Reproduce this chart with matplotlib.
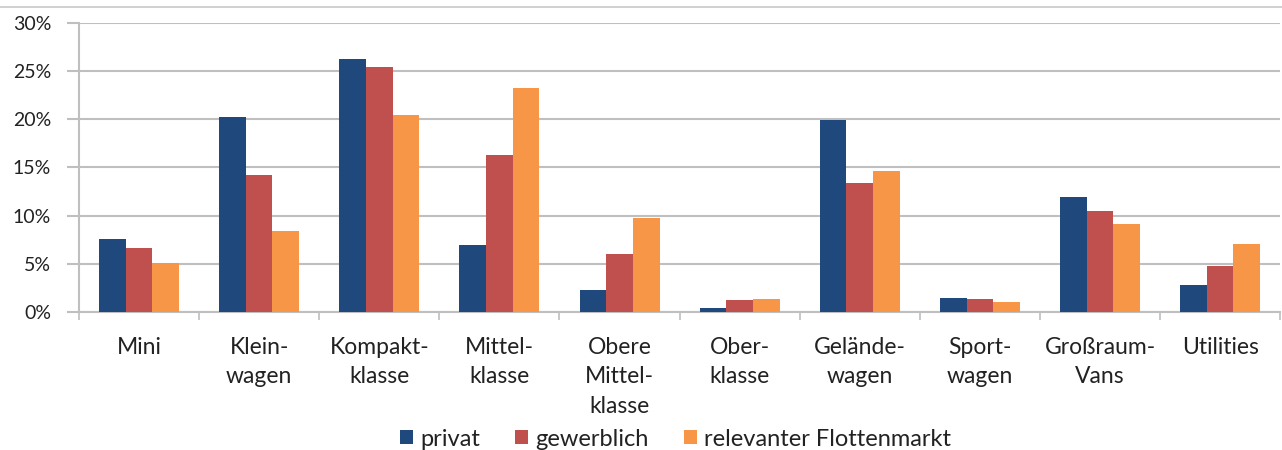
import matplotlib.pyplot as plt
import numpy as np
from matplotlib.lines import Line2D
from matplotlib.ticker import FuncFormatter, FixedLocator

plt.rcParams['font.family'] = ['Lato', 'DejaVu Sans']

categories = ["Mini", "Klein-\nwagen", "Kompakt-\nklasse", "Mittel-\nklasse",
              "Obere\nMittel-\nklasse", "Ober-\nklasse", "Gelände-\nwagen",
              "Sport-\nwagen", "Großraum-\nVans", "Utilities"]
privat = [7.6, 20.2, 26.3, 7.0, 2.3, 0.4, 19.9, 1.5, 11.9, 2.8]
gewerblich = [6.6, 14.2, 25.4, 16.3, 6.0, 1.2, 13.4, 1.3, 10.5, 4.8]
flotte = [5.1, 8.4, 20.5, 23.2, 9.8, 1.3, 14.6, 1.0, 9.1, 7.1]
series_names = ["privat", "gewerblich", "relevanter Flottenmarkt"]
colors = ["#1F497D", "#C0504D", "#F79646"]
grid_color = "#BFBFBF"
text_color = "#222222"


def format_percent(value, pos):
    return f"{int(round(value))}%"


fig = plt.figure(figsize=(12.82, 4.5), dpi=100)
ax = fig.add_axes([0.0616, 0.3067, 0.937, 0.6422])

x = np.arange(len(categories))
width = 0.222
for i, (vals, name) in enumerate(zip([privat, gewerblich, flotte], series_names)):
    ax.bar(x + (i - 1) * width, vals, width, color=colors[i], label=name, zorder=3)

ax.set_xlim(-0.5, len(categories) - 0.5)
ax.set_ylim(0, 30)
ax.set_yticks(range(0, 31, 5))
ax.yaxis.set_major_formatter(FuncFormatter(format_percent))
ax.yaxis.grid(True, color=grid_color, linewidth=1.5, zorder=0)

ax.set_xticks(x)
ax.set_xticklabels(categories, fontsize=16.5, color=text_color, linespacing=1.5,
                   va="top")
ax.xaxis.set_minor_locator(FixedLocator(np.arange(-0.5, len(categories), 1.0)))
ax.tick_params(axis="x", which="major", length=0, pad=18)
ax.tick_params(axis="x", which="minor", length=6, width=1.2, color=grid_color)
ax.tick_params(axis="y", length=9, width=1.5, color=grid_color, labelsize=14,
               labelcolor=text_color, pad=11)

for side in ("top", "right"):
    ax.spines[side].set_visible(False)
for side in ("left", "bottom"):
    ax.spines[side].set_color(grid_color)
    ax.spines[side].set_linewidth(1.5)

# thin border line at the very top of the picture
fig.add_artist(Line2D([0, 1], [0.984, 0.984], color="#C8C8C8", linewidth=1.2))

leg = fig.legend(loc="center", bbox_to_anchor=(0.527, 0.024), ncol=3,
                 frameon=False, fontsize=17, handlelength=0.55,
                 handleheight=0.55, handletextpad=0.3, columnspacing=1.5,
                 borderaxespad=0)
for t in leg.get_texts():
    t.set_color(text_color)

fig.savefig("out.png", dpi=100)
